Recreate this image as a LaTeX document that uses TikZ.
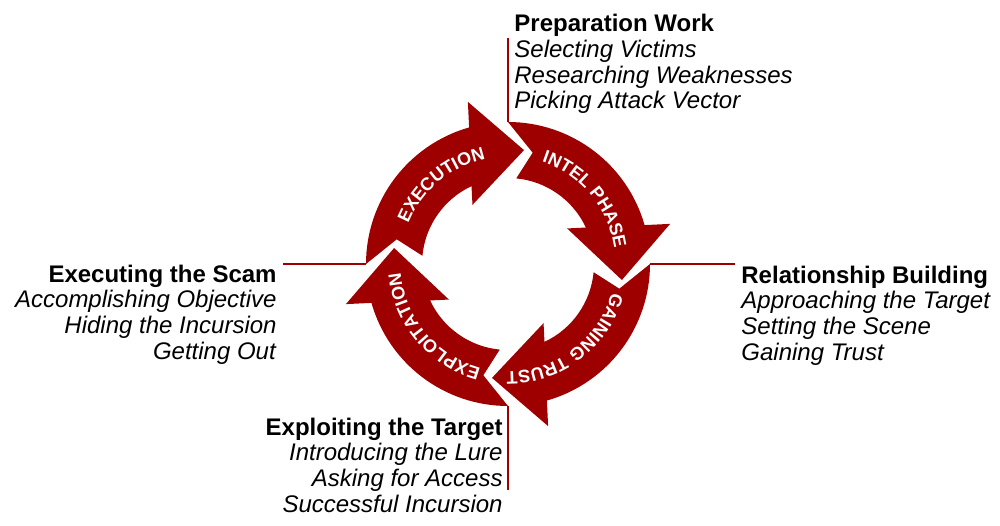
\documentclass[tikz,border=0pt]{standalone}
\usepackage{fontspec}
\setmainfont{Liberation Sans}
\setsansfont{Liberation Sans}
\usetikzlibrary{decorations.text}
\definecolor{scamred}{RGB}{158,0,0}

\begin{document}
\begin{tikzpicture}[x=0.5pt, y=0.5pt,
	every node/.style={font=\fontsize{12}{12.85}\selectfont, inner sep=0pt},
	leader/.style={scamred, line width=1pt},
	ringtext/.style={decorate, decoration={text along path, text align=center, text color=white,
		text={|\bfseries\fontsize{9}{11}\selectfont|#1}}}]
	\useasboundingbox (0,0) rectangle (1000,525);
	\foreach \rot in {0,-90,-180,-270} {
		\fill[scamred, shift={(508,261)}, rotate=\rot] (180:142) arc[start angle=180, end angle=105.9, radius=142]
			-- (103.9:167) -- (82:115) -- (121:69) -- (115.1:86) arc[start angle=115.1, end angle=174.5, radius=86]
			-- (167.5:114) -- cycle;
	}
	\path[ringtext=EXECUTION] (508,261) ++(175:107.5) arc[start angle=175, end angle=85, radius=107.5];
	\path[ringtext=INTEL PHASE] (508,261) ++(85:107.5) arc[start angle=85, end angle=-5, radius=107.5];
	\path[ringtext=GAINING TRUST] (508,261) ++(-8:107.5) arc[start angle=-8, end angle=-98, radius=107.5];
	\path[ringtext=EXPLOITATION] (508,261) ++(-95:107.5) arc[start angle=-95, end angle=-185, radius=107.5];
	\node[align=left, anchor=north west] (prep) at (514,511) {\textbf{Preparation Work}\\\textit{Selecting Victims}\\\textit{Researching Weaknesses}\\\textit{Picking Attack Vector}};
	\node[align=left, anchor=north west] (relation) at (741,259.5) {\textbf{Relationship Building}\\\textit{Approaching the Target}\\\textit{Setting the Scene}\\\textit{Gaining Trust}};
	\node[align=right, anchor=north east] (scam) at (277,260.5) {\textbf{Executing the Scam}\\\textit{Accomplishing Objective}\\\textit{Hiding the Incursion}\\\textit{Getting Out}};
	\node[align=right, anchor=north east] (exploit) at (503,107.5) {\textbf{Exploiting the Target}\\\textit{Introducing the Lure}\\\textit{Asking for Access}\\\textit{Successful Incursion}};
	\coordinate (ringN) at (508,403);
	\coordinate (ringE) at (650,261);
	\coordinate (ringS) at (508,119);
	\coordinate (ringW) at (366,261);
	\coordinate (prepend) at (508,487);
	\coordinate (relend) at (735,261);
	\coordinate (exploitend) at (508,35);
	\coordinate (scamend) at (283,261);
	\draw[leader] (ringN) -- (prepend);
	\draw[leader] (ringE) -- (relend);
	\draw[leader] (ringS) -- (exploitend);
	\draw[leader] (ringW) -- (scamend);
\end{tikzpicture}
\end{document}
